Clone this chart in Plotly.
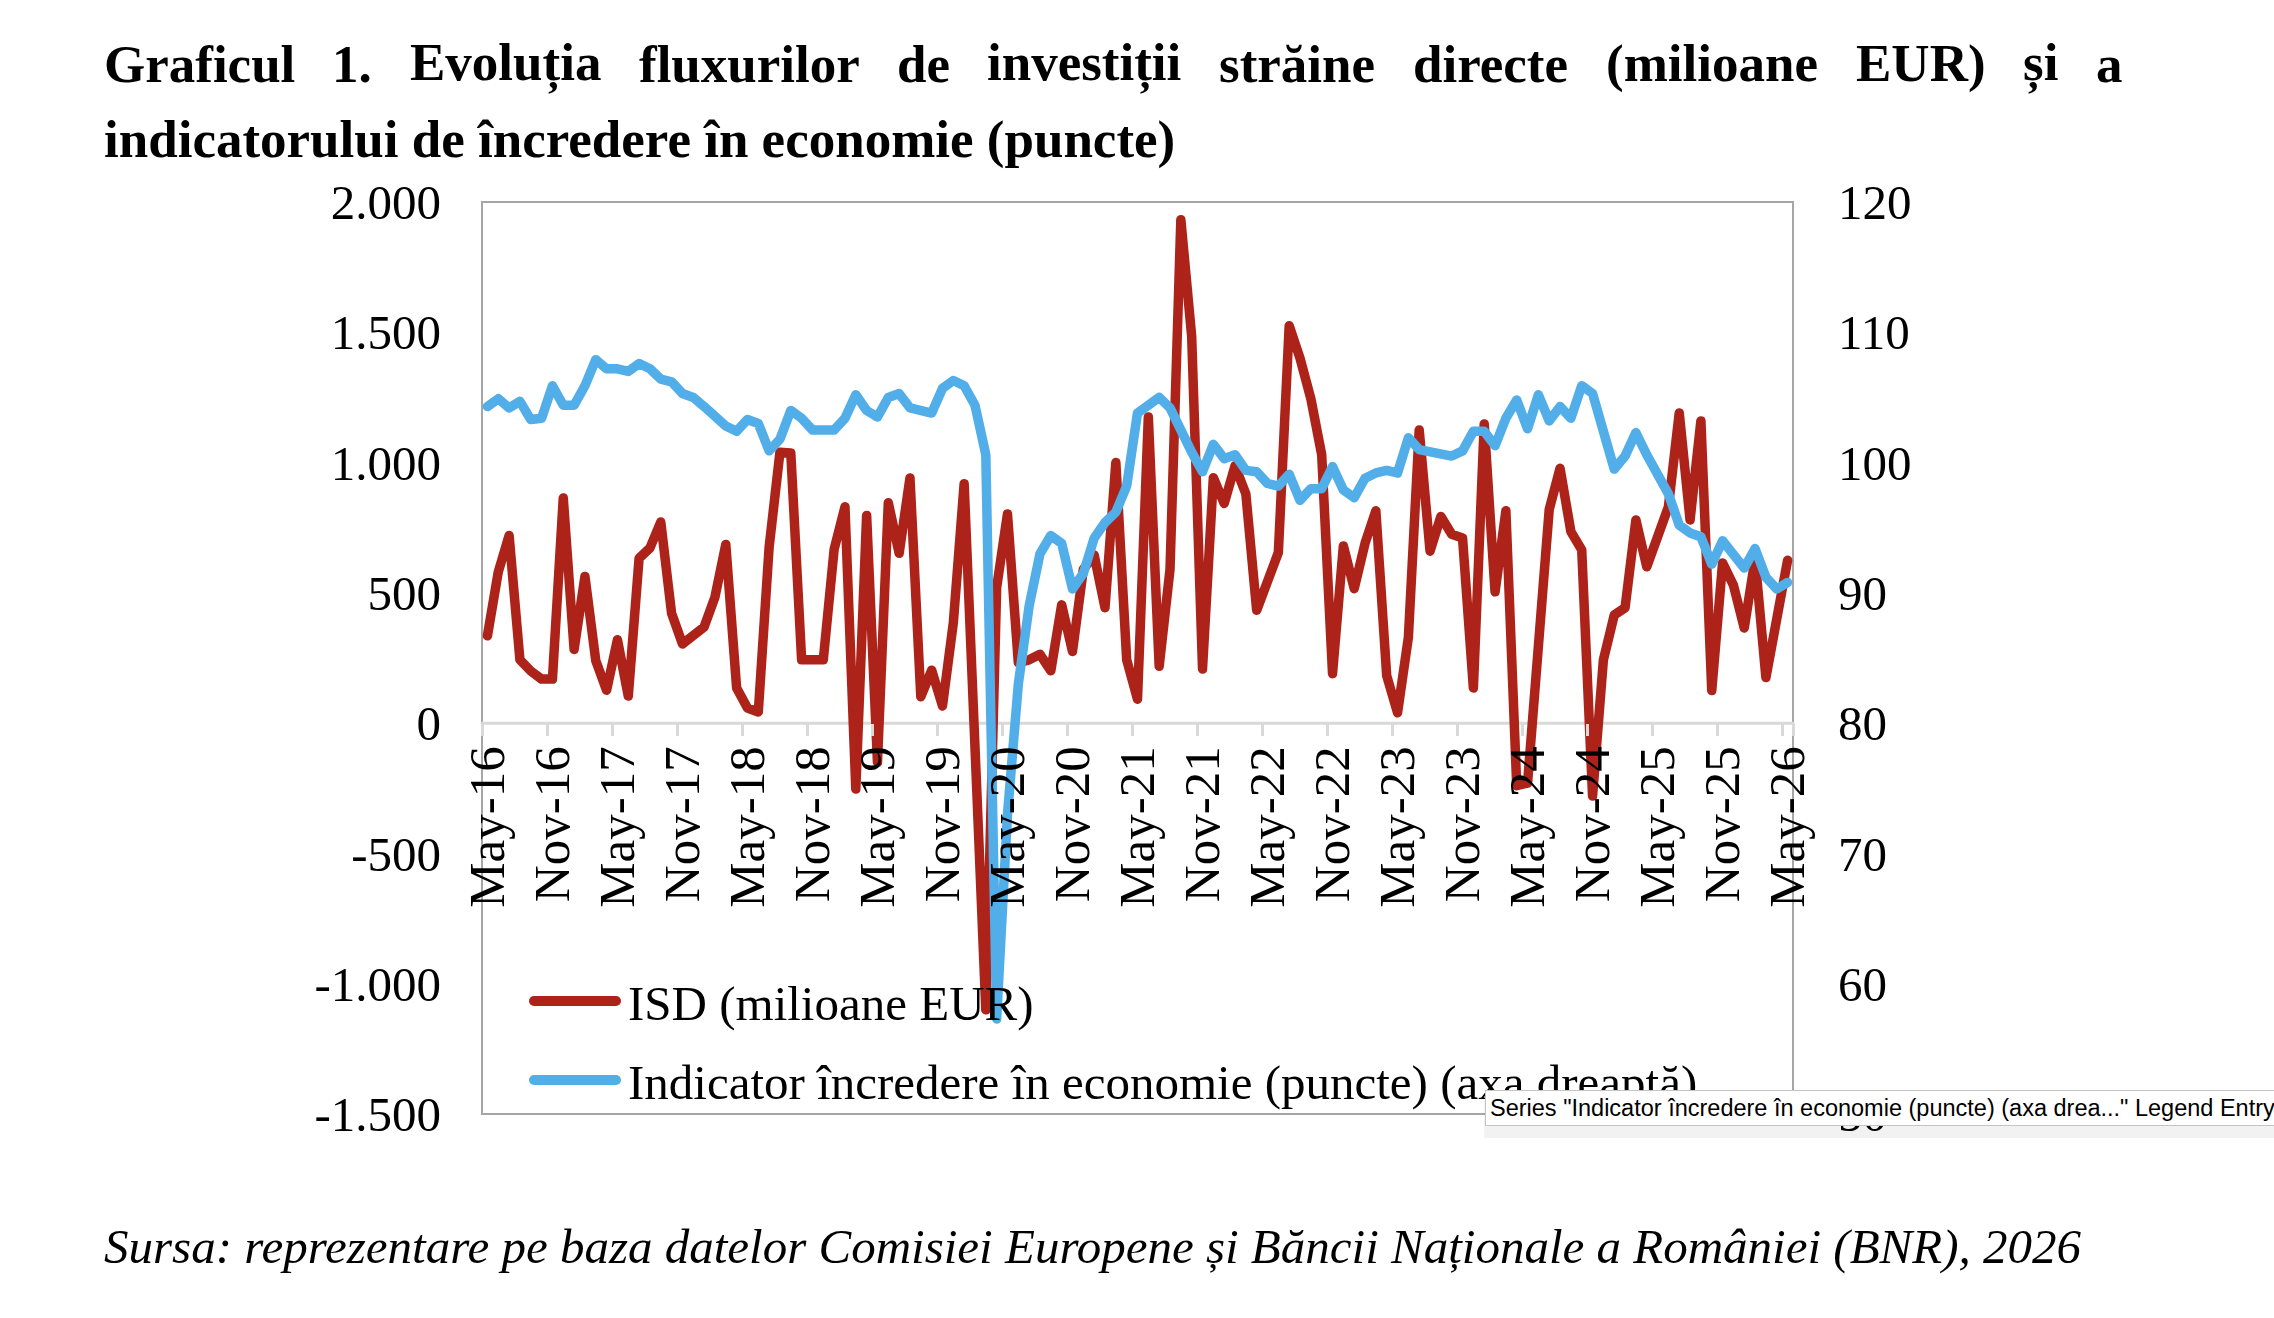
import pandas as pd
import plotly.graph_objects as go

# ---------------- data ----------------
months = pd.date_range("2016-05-01", periods=121, freq="MS").strftime("%b-%y").tolist()

isd = [335, 580, 720, 243, 200, 169, 169, 864, 283, 563,
       240, 126, 320, 104, 633, 672, 772, 421, 304, 338,
       369, 484, 686, 135, 58, 43, 675, 1040, 1037, 243,
       243, 243, 667, 830, -253, 797, -150, 846, 652, 941,
       101, 203, 66, 385, 919, -90, -1100, 520, 803, 232,
       243, 264, 201, 454, 275, 590, 645, 443, 1000, 243,
       92, 1175, 218, 590, 1932, 1485, 208, 942, 843, 988,
       880, 433, 545, 655, 1525, 1400, 1245, 1030, 190, 680,
       516, 690, 815, 182, 40, 329, 1125, 660, 793, 725,
       711, 135, 1148, 504, 815, -240, -230, 300, 820, 978,
       735, 665, -280, 243, 415, 443, 780, 600, 705, 830,
       1190, 780, 1160, 125, 615, 530, 365, 630, 175, 400,
       625]

esi = [104.3, 104.9, 104.2, 104.7, 103.3, 103.4, 105.9, 104.4, 104.4, 105.9,
       107.9, 107.2, 107.2, 107.0, 107.6, 107.2, 106.4, 106.2, 105.3, 105.0,
       104.3, 103.5, 102.8, 102.4, 103.3, 103.0, 100.9, 101.8, 104.0, 103.4,
       102.5, 102.5, 102.5, 103.4, 105.2, 104.0, 103.5, 105.0, 105.3, 104.2,
       104.0, 103.8, 105.7, 106.3, 105.9, 104.4, 100.6, 57.3, 73.0, 83.0,
       89.0, 93.0, 94.4, 93.8, 90.3, 91.5, 94.2, 95.4, 96.2, 98.2,
       103.8, 104.5, 105.0, 104.2, 102.3, 100.8, 99.3, 101.4, 100.3, 100.6,
       99.4, 99.3, 98.4, 98.2, 99.1, 97.1, 98.0, 98.0, 99.7, 97.9,
       97.3, 98.8, 99.2, 99.4, 99.2, 101.9, 101.0, 100.8, 100.6, 100.5,
       100.9, 102.4, 102.4, 101.3, 103.4, 104.8, 102.6, 105.2, 103.2, 104.3,
       103.4, 105.9, 105.3, 102.4, 99.5, 100.5, 102.3, 100.6, 98.9, 97.6,
       95.2, 94.6, 94.3, 92.2, 94.0, 92.9, 91.9, 93.4, 91.2, 90.3,
       90.8]

left_tickvals = [-1500, -1000, -500, 0, 500, 1000, 1500, 2000]
left_ticktext = ["-1.500", "-1.000", "-500", "0", "500", "1.000", "1.500", "2.000"]
right_tickvals = [50, 60, 70, 80, 90, 100, 110, 120]
right_ticktext = ["50", "60", "70", "80", "90", "100", "110", "120"]
x_tickvals = months[::6]

series_names = ["ISD (milioane EUR)",
                "Indicator încredere în economie (puncte) (axa dreaptă)"]
title_line1_words = ["Graficul", "1.", "Evoluția", "fluxurilor", "de", "investiții",
                     "străine", "directe", "(milioane", "EUR)", "și", "a"]
title_line2 = "indicatorului de încredere în economie (puncte)"
source_text = ("Sursa: reprezentare pe baza datelor Comisiei Europene și "
               "Băncii Naționale a României (BNR), 2026")
tooltip_text = 'Series "Indicator încredere în economie (puncte) (axa drea..." Legend Entry'

# ---------------- layout helpers ----------------
W, H = 2274, 1318
ML, MR, MT, MB = 482, 481, 202, 204
PW, PH = W - ML - MR, H - MT - MB


def px(x):
    return (x - ML) / PW


def py(y):
    return (H - MB - y) / PH


RED = "#AD2319"
BLUE = "#51AEE8"
SERIF = "Liberation Serif"
TITLE_SIZE = 53

# approximate bold serif advance widths (em) for justifying title line 1
BOLD_W = {"(": .333, ")": .333, ".": .25, "1": .5, "a": .5, "c": .444, "d": .556,
          "e": .444, "f": .333, "i": .278, "l": .278, "m": .833, "n": .556, "o": .5,
          "r": .444, "s": .389, "t": .333, "u": .556, "v": .5, "x": .5, "E": .667,
          "G": .778, "R": .722, "U": .722, "ă": .5, "ș": .389, "ț": .333, "î": .278}


def word_width(w):
    return sum(BOLD_W.get(c, .5) for c in w) * TITLE_SIZE


TITLE_LEFT, TITLE_RIGHT = 101.5, 2120.0
widths = [word_width(w) for w in title_line1_words]
gap = (TITLE_RIGHT - TITLE_LEFT - sum(widths)) / (len(widths) - 1)
word_x = []
cur = TITLE_LEFT
for wd in widths:
    word_x.append(cur)
    cur += wd + gap

fig = go.Figure()
fig.add_trace(go.Scatter(x=months, y=isd, mode="lines", name=series_names[0],
                         line=dict(color=RED, width=9.5), yaxis="y", showlegend=False,
                         hoverinfo="skip"))
fig.add_trace(go.Scatter(x=months, y=esi, mode="lines", name=series_names[1],
                         line=dict(color=BLUE, width=9.5), yaxis="y2", showlegend=False,
                         hoverinfo="skip"))

axis_font = dict(family=SERIF, size=49, color="black")

fig.update_layout(
    width=W, height=H,
    margin=dict(l=ML, r=MR, t=MT, b=MB, pad=0),
    paper_bgcolor="white", plot_bgcolor="white",
    showlegend=False,
    xaxis=dict(type="category", range=[-0.5, 120.5], tickmode="array",
               tickvals=x_tickvals, ticktext=x_tickvals, tickangle=-90,
               tickson="boundaries", ticks="outside", ticklen=12, tickwidth=3,
               tickcolor="#D9D9D9", showline=False, showgrid=False, zeroline=False,
               anchor="free", position=1500 / 3500,
               tickfont=dict(family=SERIF, size=51, color="black"),
               ticklabelstandoff=12),
    yaxis=dict(range=[-1500, 2000], tickmode="array", tickvals=left_tickvals,
               ticktext=left_ticktext, showgrid=False, zeroline=False, showline=False,
               ticks="", tickfont=axis_font, ticklabelstandoff=40),
    yaxis2=dict(range=[50, 120], overlaying="y", side="right", tickmode="array",
                tickvals=right_tickvals, ticktext=right_ticktext, showgrid=False,
                zeroline=False, showline=False, ticks="", tickfont=axis_font,
                ticklabelstandoff=44),
)

shapes = [
    # plot-area border
    dict(type="rect", xref="paper", yref="paper", x0=0, x1=1, y0=0, y1=1,
         line=dict(color="#A6A6A6", width=2), layer="below"),
    # horizontal axis line at zero
    dict(type="line", xref="paper", yref="y", x0=0, x1=1, y0=0, y1=0,
         line=dict(color="#D9D9D9", width=3), layer="below"),
    # legend keys
    dict(type="line", xref="paper", yref="paper", x0=px(534), x1=px(616),
         y0=py(1001), y1=py(1001), line=dict(color=RED, width=10)),
    dict(type="line", xref="paper", yref="paper", x0=px(534), x1=px(616),
         y0=py(1080), y1=py(1080), line=dict(color=BLUE, width=10)),
    # tooltip shadow
    dict(type="rect", xref="paper", yref="paper", x0=px(1484), x1=px(2290),
         y0=py(1138), y1=py(1100), line=dict(width=0),
         fillcolor="rgba(0,0,0,0.05)", layer="above"),
]

annotations = []
# legend texts
annotations.append(dict(xref="paper", yref="paper", x=px(626), y=py(1003),
                        xanchor="left", yanchor="middle", showarrow=False,
                        text=series_names[0], font=axis_font))
annotations.append(dict(xref="paper", yref="paper", x=px(626), y=py(1082),
                        xanchor="left", yanchor="middle", showarrow=False,
                        text=series_names[1], font=axis_font))

# title line 1 (justified, word by word)
for w, xs in zip(title_line1_words, word_x):
    annotations.append(dict(xref="paper", yref="paper", x=px(xs), y=py(64),
                            xanchor="left", yanchor="middle", showarrow=False,
                            text="<b>" + w + "</b>",
                            font=dict(family=SERIF, size=TITLE_SIZE, color="black")))
annotations.append(dict(xref="paper", yref="paper", x=px(TITLE_LEFT), y=py(139),
                        xanchor="left", yanchor="middle", showarrow=False,
                        text="<b>" + title_line2 + "</b>",
                        font=dict(family=SERIF, size=TITLE_SIZE, color="black")))
# source
annotations.append(dict(xref="paper", yref="paper", x=px(TITLE_LEFT), y=py(1246),
                        xanchor="left", yanchor="middle", showarrow=False,
                        text="<i>" + source_text + "</i>",
                        font=dict(family=SERIF, size=49, color="black")))
# tooltip
annotations.append(dict(xref="paper", yref="paper", x=px(1485), y=py(1108),
                        xanchor="left", yanchor="middle", showarrow=False,
                        text=tooltip_text, bgcolor="white", bordercolor="#C4C4C4",
                        borderwidth=1, borderpad=4,
                        font=dict(family="Liberation Sans", size=23.5, color="black")))

fig.update_layout(shapes=shapes, annotations=annotations)

round_js = """
var s = document.createElement('style');
s.innerHTML = '.scatterlayer .js-line{stroke-linejoin:round;stroke-linecap:round;}'
            + ' .shapelayer path{stroke-linecap:round;}';
document.head.appendChild(s);
"""
fig.write_html("out.html", post_script=round_js)
